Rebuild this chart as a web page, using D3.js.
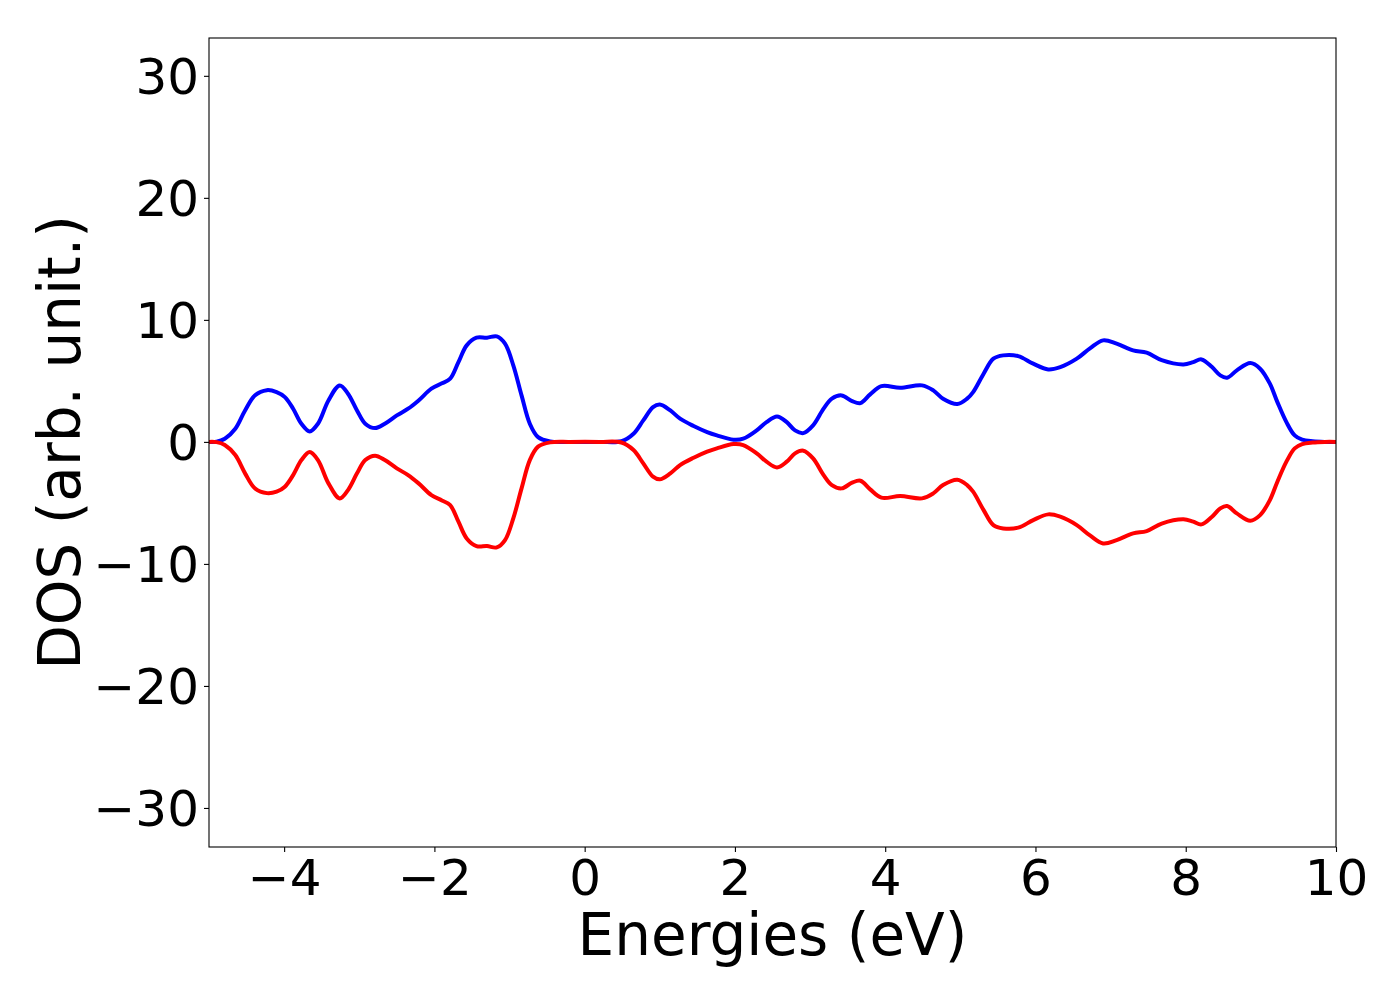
<!DOCTYPE html>
<meta charset="utf-8">
<html>
<head>
  <style>
    body { margin: 0; background: white; }
    text { font-family: "DejaVu Sans", sans-serif; fill: black; }
    .tick text { font-size: 50px; }
    .axis-label { font-size: 58px; }
    .line { fill: none; stroke-width: 4px; stroke-linejoin: round; }
  </style>
</head>
<body>
<svg width="1400" height="1000"></svg>

<script src="https://d3js.org/d3.v7.min.js"></script>
<script>

// Energies (eV)
const energies = [
  -5.00, -4.90, -4.79, -4.65, -4.52, -4.39, -4.23, -4.10, -3.99, -3.88,
  -3.77, -3.66, -3.55, -3.41, -3.26, -3.15, -3.03, -2.92, -2.79, -2.66,
  -2.50, -2.35, -2.21, -2.04, -1.90, -1.79, -1.68, -1.57, -1.44, -1.30,
  -1.17, -1.06, -0.95, -0.84, -0.73, -0.62, -0.46, -0.20, 0.20, 0.49,
  0.65, 0.78, 0.91, 1.00, 1.14, 1.27, 1.45, 1.63, 1.76, 1.98,
  2.11, 2.29, 2.42, 2.56, 2.69, 2.80, 2.91, 3.04, 3.18, 3.29,
  3.42, 3.56, 3.67, 3.80, 3.95, 4.20, 4.49, 4.64, 4.77, 4.96,
  5.09, 5.17, 5.31, 5.44, 5.57, 5.77, 5.97, 6.17, 6.33, 6.55,
  6.73, 6.90, 7.08, 7.30, 7.48, 7.68, 7.97, 8.10, 8.21, 8.35,
  8.46, 8.55, 8.68, 8.86, 8.99, 9.12, 9.22, 9.34, 9.45, 9.55,
  9.69, 9.85, 10.00
];

// Spin-up DOS
const dosUp = [
  0.00, 0.02, 0.26, 1.08, 2.58, 3.80, 4.24, 4.08, 3.67, 2.72,
  1.49, 0.86, 1.49, 3.40, 4.63, 3.95, 2.58, 1.49, 1.13, 1.49,
  2.17, 2.72, 3.40, 4.36, 4.80, 5.18, 6.54, 7.91, 8.54, 8.54,
  8.65, 8.05, 6.27, 3.81, 1.49, 0.39, 0.04, 0.00, 0.00, 0.05,
  0.67, 1.76, 2.85, 3.07, 2.58, 1.90, 1.30, 0.80, 0.53, 0.18,
  0.26, 0.94, 1.62, 2.09, 1.62, 0.94, 0.72, 1.35, 2.72, 3.54,
  3.81, 3.34, 3.18, 3.89, 4.57, 4.44, 4.63, 4.22, 3.54, 3.10,
  3.54, 4.08, 5.59, 6.82, 7.09, 7.03, 6.41, 5.94, 6.13, 6.82,
  7.69, 8.32, 8.05, 7.50, 7.31, 6.70, 6.35, 6.54, 6.76, 6.13,
  5.45, 5.26, 5.86, 6.46, 6.00, 4.77, 3.26, 1.62, 0.53, 0.18,
  0.05, 0.00, 0.00
];

// Spin-down DOS (plotted negative)
const dosDown = [
  0.00, -0.02, -0.26, -1.08, -2.58, -3.80, -4.20, -4.08, -3.67, -2.72,
  -1.49, -0.83, -1.49, -3.40, -4.63, -3.95, -2.58, -1.49, -1.13, -1.49,
  -2.17, -2.72, -3.40, -4.36, -4.80, -5.18, -6.54, -7.91, -8.54, -8.54,
  -8.65, -8.05, -6.27, -3.81, -1.49, -0.39, -0.04, 0.00, 0.00, -0.05,
  -0.67, -1.76, -2.85, -3.07, -2.58, -1.90, -1.30, -0.80, -0.53, -0.18,
  -0.26, -0.94, -1.62, -2.09, -1.62, -0.94, -0.72, -1.35, -2.72, -3.54,
  -3.81, -3.34, -3.18, -3.89, -4.57, -4.44, -4.63, -4.22, -3.54, -3.10,
  -3.54, -4.08, -5.59, -6.82, -7.09, -7.03, -6.41, -5.94, -6.13, -6.82,
  -7.69, -8.32, -8.05, -7.50, -7.31, -6.70, -6.35, -6.54, -6.76, -6.13,
  -5.45, -5.26, -5.86, -6.46, -6.00, -4.77, -3.26, -1.62, -0.53, -0.18,
  -0.05, 0.00, 0.00
];

const xTicks = [-4, -2, 0, 2, 4, 6, 8, 10];
const yTicks = [-30, -20, -10, 0, 10, 20, 30];

// plot box
const box = { left: 209, right: 1336, top: 38, bottom: 847 };

const svg = d3.select("svg");

const x = d3.scaleLinear().domain([-5, 10]).range([box.left, box.right]);
const y = d3.scaleLinear().domain([-33.2, 33.1]).range([box.bottom, box.top]);

const line = d3.line()
  .x(d => x(d[0]))
  .y(d => y(d[1]))
  .curve(d3.curveCatmullRom.alpha(0.5));

svg.append("defs").append("clipPath").attr("id", "clip")
  .append("rect")
  .attr("x", box.left).attr("y", box.top)
  .attr("width", box.right - box.left).attr("height", box.bottom - box.top);

const plot = svg.append("g").attr("clip-path", "url(#clip)");

plot.append("path")
  .datum(d3.zip(energies, dosUp))
  .attr("class", "line")
  .attr("stroke", "#0000ff")
  .attr("d", line);

plot.append("path")
  .datum(d3.zip(energies, dosDown))
  .attr("class", "line")
  .attr("stroke", "#ff0000")
  .attr("d", line);

// axes
const fmt = d3.format("d");

const xAxis = svg.append("g")
  .attr("transform", `translate(0,${box.bottom})`)
  .call(d3.axisBottom(x).tickValues(xTicks).tickFormat(fmt).tickSize(5).tickPadding(7));

const yAxis = svg.append("g")
  .attr("transform", `translate(${box.left},0)`)
  .call(d3.axisLeft(y).tickValues(yTicks).tickFormat(fmt).tickSize(5).tickPadding(5));

[xAxis, yAxis].forEach(a => {
  a.select(".domain").remove();
  a.selectAll(".tick line").attr("stroke", "black").attr("stroke-width", 1.1);
  a.attr("font-family", null).attr("font-size", null);
});
yAxis.selectAll(".tick text").attr("dy", "0.36em");
xAxis.selectAll(".tick text").attr("dy", "0.71em");

// frame
svg.append("rect")
  .attr("x", box.left).attr("y", box.top)
  .attr("width", box.right - box.left).attr("height", box.bottom - box.top)
  .attr("fill", "none")
  .attr("stroke", "black")
  .attr("stroke-width", 1.1);

// labels
svg.append("text")
  .attr("class", "axis-label")
  .attr("x", (box.left + box.right) / 2)
  .attr("y", 955)
  .attr("text-anchor", "middle")
  .text("Energies (eV)");

svg.append("text")
  .attr("class", "axis-label")
  .attr("transform", `translate(80,${(box.top + box.bottom) / 2}) rotate(-90)`)
  .attr("text-anchor", "middle")
  .text("DOS (arb. unit.)");

</script>
</body>
</html>
